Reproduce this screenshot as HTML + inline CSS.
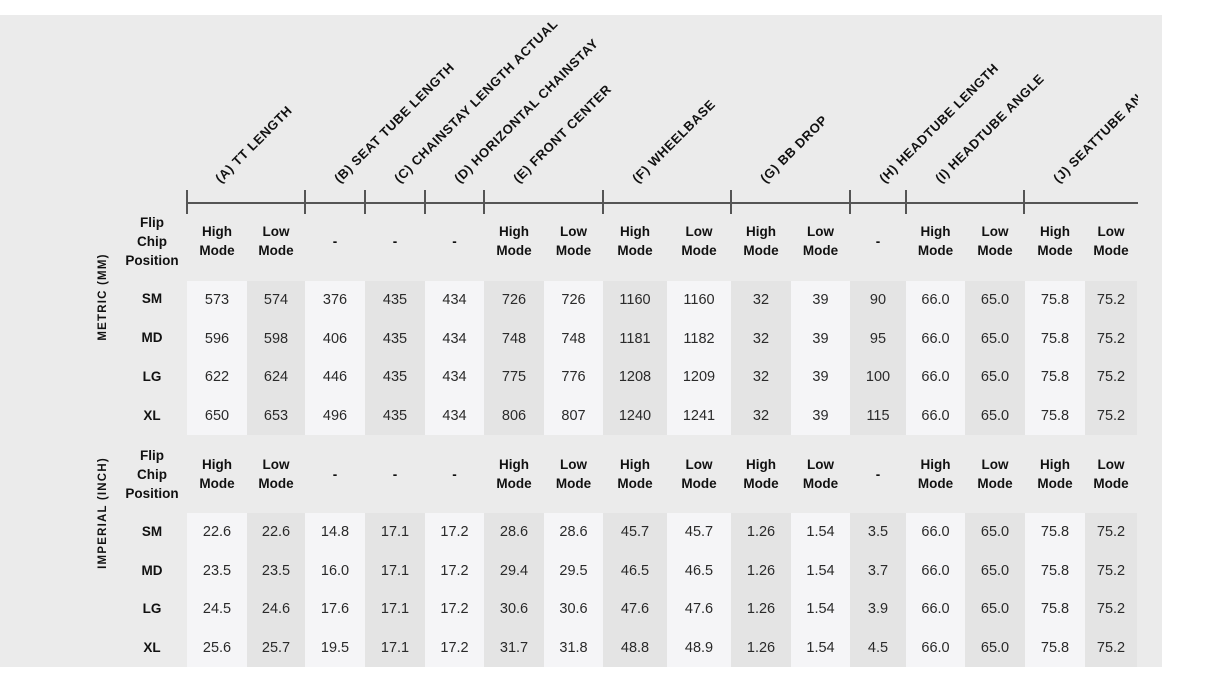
<!DOCTYPE html>
<html><head><meta charset="utf-8"><style>
body{margin:0;width:1214px;height:682px;background:#fff;position:relative;overflow:hidden;font-family:"Liberation Sans",sans-serif;color:#333}
.panel{position:absolute;left:0;top:15px;width:1162px;height:652px;background:#ebebeb}
.hdr{position:absolute;left:0;top:0;width:1138px;height:215px;overflow:hidden}
.lab{position:absolute;font-weight:bold;font-size:13px;letter-spacing:0.6px;color:#111;white-space:nowrap;transform-origin:0 100%;transform:rotate(-45deg);line-height:13px}
.hl{position:absolute;left:187px;top:202px;width:951px;height:2px;background:#555}
.tk{position:absolute;top:190px;width:2px;height:24px;background:#555}
.row{position:absolute;left:187px;display:flex;height:38.5px;align-items:center}
.row div{text-align:center;font-size:14.5px;color:#2a2a2a}
.band{position:absolute;left:187px;display:flex;height:154px}
.band div:nth-child(odd){background:#f5f5f7}
.band div:nth-child(even){background:#e4e4e4}
.h div{font-weight:bold;font-size:13.5px;line-height:19px;color:#111}
.sz{position:absolute;left:122px;width:60px;text-align:center;font-weight:bold;font-size:13.5px;color:#111}
.fcp{position:absolute;left:112px;width:80px;text-align:center;font-weight:bold;font-size:13.5px;line-height:19px;color:#111}
.vt{position:absolute;font-weight:bold;font-size:11.5px;letter-spacing:1.2px;color:#111;white-space:nowrap;transform:translate(-50%,-50%) rotate(-90deg)}
.w0{width:60px}.w1{width:58px}.w2{width:60px}.w3{width:60px}.w4{width:59px}.w5{width:60px}.w6{width:59px}.w7{width:64px}.w8{width:64px}.w9{width:60px}.w10{width:59px}.w11{width:56px}.w12{width:59px}.w13{width:60px}.w14{width:60px}.w15{width:52px}
</style></head><body>
<div class="panel"></div>
<div class="hdr">
<div class="lab" style="left:222px;top:172px">(A) TT LENGTH</div>
<div class="lab" style="left:341px;top:172px">(B) SEAT TUBE LENGTH</div>
<div class="lab" style="left:401px;top:172px">(C) CHAINSTAY LENGTH ACTUAL</div>
<div class="lab" style="left:461px;top:172px">(D) HORIZONTAL CHAINSTAY</div>
<div class="lab" style="left:520px;top:172px">(E) FRONT CENTER</div>
<div class="lab" style="left:639px;top:172px">(F) WHEELBASE</div>
<div class="lab" style="left:767px;top:172px">(G) BB DROP</div>
<div class="lab" style="left:886px;top:172px">(H) HEADTUBE LENGTH</div>
<div class="lab" style="left:942px;top:172px">(I) HEADTUBE ANGLE</div>
<div class="lab" style="left:1060px;top:172px">(J) SEATTUBE ANGLE</div>
<div class="hl"></div>
<div class="tk" style="left:186px"></div><div class="tk" style="left:304px"></div><div class="tk" style="left:364px"></div><div class="tk" style="left:424px"></div><div class="tk" style="left:483px"></div><div class="tk" style="left:602px"></div><div class="tk" style="left:730px"></div><div class="tk" style="left:849px"></div><div class="tk" style="left:905px"></div><div class="tk" style="left:1023px"></div>
</div>

<div class="vt" style="left:103px;top:297px">METRIC (MM)</div>
<div class="vt" style="left:103px;top:513px">IMPERIAL (INCH)</div>

<div class="fcp" style="top:213px">Flip<br>Chip<br>Position</div>
<div class="fcp" style="top:446px">Flip<br>Chip<br>Position</div>

<div class="row h" style="top:222px;height:38px"><div class="w0">High<br>Mode</div><div class="w1">Low<br>Mode</div><div class="w2">-</div><div class="w3">-</div><div class="w4">-</div><div class="w5">High<br>Mode</div><div class="w6">Low<br>Mode</div><div class="w7">High<br>Mode</div><div class="w8">Low<br>Mode</div><div class="w9">High<br>Mode</div><div class="w10">Low<br>Mode</div><div class="w11">-</div><div class="w12">High<br>Mode</div><div class="w13">Low<br>Mode</div><div class="w14">High<br>Mode</div><div class="w15">Low<br>Mode</div></div>
<div class="row h" style="top:455px;height:38px"><div class="w0">High<br>Mode</div><div class="w1">Low<br>Mode</div><div class="w2">-</div><div class="w3">-</div><div class="w4">-</div><div class="w5">High<br>Mode</div><div class="w6">Low<br>Mode</div><div class="w7">High<br>Mode</div><div class="w8">Low<br>Mode</div><div class="w9">High<br>Mode</div><div class="w10">Low<br>Mode</div><div class="w11">-</div><div class="w12">High<br>Mode</div><div class="w13">Low<br>Mode</div><div class="w14">High<br>Mode</div><div class="w15">Low<br>Mode</div></div>

<div class="band" style="top:281px"><div class="w0"></div><div class="w1"></div><div class="w2"></div><div class="w3"></div><div class="w4"></div><div class="w5"></div><div class="w6"></div><div class="w7"></div><div class="w8"></div><div class="w9"></div><div class="w10"></div><div class="w11"></div><div class="w12"></div><div class="w13"></div><div class="w14"></div><div class="w15"></div></div>
<div class="band" style="top:513px"><div class="w0"></div><div class="w1"></div><div class="w2"></div><div class="w3"></div><div class="w4"></div><div class="w5"></div><div class="w6"></div><div class="w7"></div><div class="w8"></div><div class="w9"></div><div class="w10"></div><div class="w11"></div><div class="w12"></div><div class="w13"></div><div class="w14"></div><div class="w15"></div></div>

<div class="sz" style="top:291px">SM</div><div class="sz" style="top:330px">MD</div><div class="sz" style="top:369px">LG</div><div class="sz" style="top:408px">XL</div>
<div class="sz" style="top:524px">SM</div><div class="sz" style="top:563px">MD</div><div class="sz" style="top:601px">LG</div><div class="sz" style="top:640px">XL</div>

<div class="row" style="top:281px"><div class="w0">573</div><div class="w1">574</div><div class="w2">376</div><div class="w3">435</div><div class="w4">434</div><div class="w5">726</div><div class="w6">726</div><div class="w7">1160</div><div class="w8">1160</div><div class="w9">32</div><div class="w10">39</div><div class="w11">90</div><div class="w12">66.0</div><div class="w13">65.0</div><div class="w14">75.8</div><div class="w15">75.2</div></div>
<div class="row" style="top:319.5px"><div class="w0">596</div><div class="w1">598</div><div class="w2">406</div><div class="w3">435</div><div class="w4">434</div><div class="w5">748</div><div class="w6">748</div><div class="w7">1181</div><div class="w8">1182</div><div class="w9">32</div><div class="w10">39</div><div class="w11">95</div><div class="w12">66.0</div><div class="w13">65.0</div><div class="w14">75.8</div><div class="w15">75.2</div></div>
<div class="row" style="top:358px"><div class="w0">622</div><div class="w1">624</div><div class="w2">446</div><div class="w3">435</div><div class="w4">434</div><div class="w5">775</div><div class="w6">776</div><div class="w7">1208</div><div class="w8">1209</div><div class="w9">32</div><div class="w10">39</div><div class="w11">100</div><div class="w12">66.0</div><div class="w13">65.0</div><div class="w14">75.8</div><div class="w15">75.2</div></div>
<div class="row" style="top:396.5px"><div class="w0">650</div><div class="w1">653</div><div class="w2">496</div><div class="w3">435</div><div class="w4">434</div><div class="w5">806</div><div class="w6">807</div><div class="w7">1240</div><div class="w8">1241</div><div class="w9">32</div><div class="w10">39</div><div class="w11">115</div><div class="w12">66.0</div><div class="w13">65.0</div><div class="w14">75.8</div><div class="w15">75.2</div></div>

<div class="row" style="top:513px"><div class="w0">22.6</div><div class="w1">22.6</div><div class="w2">14.8</div><div class="w3">17.1</div><div class="w4">17.2</div><div class="w5">28.6</div><div class="w6">28.6</div><div class="w7">45.7</div><div class="w8">45.7</div><div class="w9">1.26</div><div class="w10">1.54</div><div class="w11">3.5</div><div class="w12">66.0</div><div class="w13">65.0</div><div class="w14">75.8</div><div class="w15">75.2</div></div>
<div class="row" style="top:551.5px"><div class="w0">23.5</div><div class="w1">23.5</div><div class="w2">16.0</div><div class="w3">17.1</div><div class="w4">17.2</div><div class="w5">29.4</div><div class="w6">29.5</div><div class="w7">46.5</div><div class="w8">46.5</div><div class="w9">1.26</div><div class="w10">1.54</div><div class="w11">3.7</div><div class="w12">66.0</div><div class="w13">65.0</div><div class="w14">75.8</div><div class="w15">75.2</div></div>
<div class="row" style="top:590px"><div class="w0">24.5</div><div class="w1">24.6</div><div class="w2">17.6</div><div class="w3">17.1</div><div class="w4">17.2</div><div class="w5">30.6</div><div class="w6">30.6</div><div class="w7">47.6</div><div class="w8">47.6</div><div class="w9">1.26</div><div class="w10">1.54</div><div class="w11">3.9</div><div class="w12">66.0</div><div class="w13">65.0</div><div class="w14">75.8</div><div class="w15">75.2</div></div>
<div class="row" style="top:628.5px"><div class="w0">25.6</div><div class="w1">25.7</div><div class="w2">19.5</div><div class="w3">17.1</div><div class="w4">17.2</div><div class="w5">31.7</div><div class="w6">31.8</div><div class="w7">48.8</div><div class="w8">48.9</div><div class="w9">1.26</div><div class="w10">1.54</div><div class="w11">4.5</div><div class="w12">66.0</div><div class="w13">65.0</div><div class="w14">75.8</div><div class="w15">75.2</div></div>
</body></html>
